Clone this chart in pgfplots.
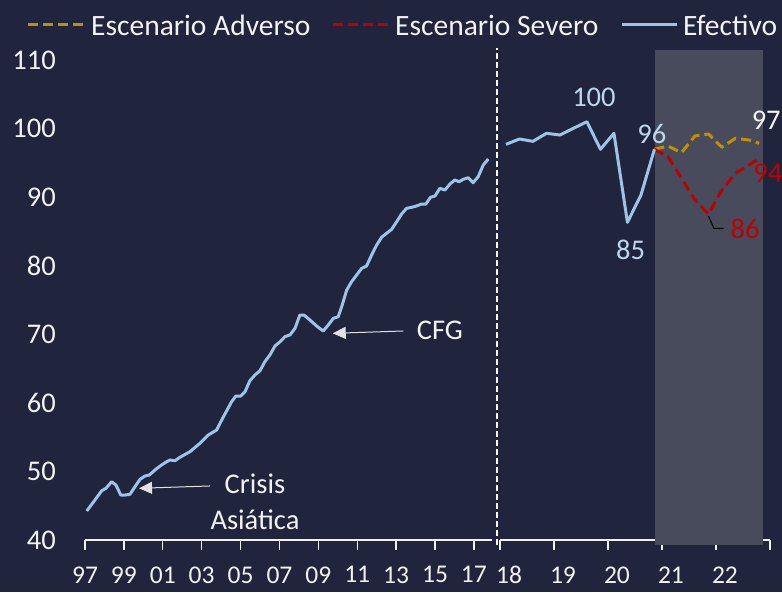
\documentclass[border=0pt]{standalone}
\usepackage{fontspec}
\setmainfont{Carlito}
\usepackage{pgfplots}
\pgfplotsset{compat=1.18}
\usetikzlibrary{arrows.meta}
\definecolor{fondo}{RGB}{32,37,61}
\definecolor{sombra}{RGB}{71,75,92}
\definecolor{efectivo}{RGB}{157,195,230}
\definecolor{adverso}{RGB}{191,144,0}
\definecolor{severo}{RGB}{192,0,0}
\definecolor{etiqueta}{RGB}{189,215,238}
\definecolor{texto}{RGB}{242,242,242}
\newcommand\grande{\fontsize{28.5}{31}\selectfont}
\newcommand\medio{\fontsize{25.5}{28}\selectfont}
\tikzset{lbl/.style={font=\grande, inner sep=0pt},
  leg/.style={font=\fontsize{29.5}{32}\selectfont, text=texto, inner sep=0pt, anchor=west},
  linea efectivo/.style={efectivo, line width=3pt, line join=round},
  linea adverso/.style={adverso, line width=3pt, dash pattern=on 10pt off 5pt, line join=round},
  linea severo/.style={severo, line width=3pt, dash pattern=on 10pt off 5pt, line join=round}}
\pgfplotsset{
  panel/.style={
    scale only axis, height=480pt, ymin=40, ymax=110, clip=false,
    axis x line*=bottom, axis y line*=left,
    x axis line style={texto, line width=1.6pt, -},
    y axis line style={draw=none},
    ytick style={draw=none},
    xtick style={texto, line width=1.4pt},
    tick align=outside, major tick length=10pt,
    /pgf/number format/assume math mode=true,
    xticklabel style={font=\medio, text=texto, yshift=-13pt},
    yticklabel style={font=\grande, text=texto, anchor=east, inner sep=0pt, xshift=-19pt},
  }
}
\begin{document}
\begin{tikzpicture}
\fill[fondo] (0,0) rectangle (782pt,592pt);

% 1997-2017
\begin{axis}[panel, at={(85pt,52pt)}, anchor=south west, width=407pt,
  xmin=1997, xmax=2017.93, xtick={1997,1999,...,2017},
  xticklabels={97,99,01,03,05,07,09,11,13,15,17}, ytick={40,50,...,110}]
  \addplot[linea efectivo, mark=none] coordinates {
    (1997.09,44.23) (1997.51,45.83) (1997.86,47.19) (1998.08,47.54) (1998.37,48.50)
    (1998.59,48.02) (1998.84,46.56) (1999.06,46.56) (1999.31,46.66) (1999.57,47.77)
    (1999.83,48.85) (2000.08,49.33) (2000.31,49.48) (2000.60,50.21) (2000.86,50.79)
    (2001.20,51.42) (2001.37,51.67) (2001.63,51.56) (2001.88,52.06) (2002.40,52.88)
    (2002.91,54.10) (2003.34,55.31) (2003.77,56.04) (2004.03,57.50) (2004.29,58.86)
    (2004.54,60.17) (2004.76,61.00) (2005.01,61.00) (2005.23,61.63) (2005.48,63.23)
    (2005.74,64.06) (2006.00,64.69) (2006.25,66.00) (2006.51,66.98) (2006.77,68.29)
    (2007.03,68.92) (2007.28,69.65) (2007.54,69.90) (2007.80,70.87) (2008.05,72.81)
    (2008.26,72.81) (2008.57,72.08) (2008.91,71.21) (2009.25,70.48) (2009.51,71.35)
    (2009.77,72.33) (2010.02,72.56) (2010.20,74.02) (2010.46,76.46) (2010.71,77.67)
    (2010.97,78.65) (2011.23,79.62) (2011.48,79.96) (2011.74,81.56) (2012.00,83.02)
    (2012.25,84.14) (2012.51,84.73) (2012.77,85.31) (2013.03,86.42) (2013.28,87.54)
    (2013.54,88.37) (2013.80,88.52) (2014.05,88.71) (2014.31,89.00) (2014.53,89.00)
    (2014.77,89.98) (2015.00,90.17) (2015.25,91.29) (2015.51,91.04) (2015.77,91.92)
    (2016.02,92.50) (2016.24,92.25) (2016.45,92.60) (2016.71,92.83) (2016.96,92.11)
    (2017.22,92.98) (2017.48,94.69) (2017.74,95.56)};
  \draw[texto!85!gray, line width=1pt, -{Triangle[length=13pt,width=12pt]}]
    (axis cs:2003.43,47.88) -- (axis cs:1999.78,47.54);
  \node[lbl, texto] at (axis cs:2005.74,48.17) {Crisis};
  \node[lbl, texto] at (axis cs:2005.74,42.92) {Asiática};
  \draw[texto!85!gray, line width=1pt, -{Triangle[length=13pt,width=12pt]}]
    (axis cs:2013.37,70.48) -- (axis cs:2009.74,70.14);
  \node[lbl, texto] at (axis cs:2015.25,70.63) {CFG};
\end{axis}

% 2018-2022
\begin{axis}[panel, at={(500pt,52pt)}, anchor=south west, width=270pt,
  xmin=2018, xmax=2023, xtick={2018,...,2023},
  xticklabels={18,19,20,21,22,{}}, ytick=\empty,
  xticklabel style={xshift=9pt}]
  \fill[sombra] (axis cs:2020.87,39.2) rectangle (axis cs:2022.87,111.46);
  \draw[white, line width=1.6pt, dash pattern=on 6pt off 3pt]
    (axis cs:2017.944,39.3) -- (axis cs:2017.944,111.7);
  \addplot[linea adverso, mark=none] coordinates {
    (2020.86,96.98) (2021.11,97.46) (2021.36,96.48) (2021.61,98.92) (2021.86,99.21)
    (2022.11,97.27) (2022.36,98.58) (2022.61,98.33) (2022.80,97.85)};
  \addplot[linea severo, mark=none] coordinates {
    (2020.86,96.98) (2021.11,95.90) (2021.36,92.79) (2021.61,89.58) (2021.86,87.54)
    (2022.11,91.04) (2022.36,93.48) (2022.61,94.69) (2022.76,95.42)};
  \addplot[linea efectivo, mark=none] coordinates {
    (2018.11,97.70) (2018.36,98.48) (2018.61,98.14) (2018.86,99.31) (2019.11,99.06)
    (2019.36,100.04) (2019.61,101.00) (2019.86,96.98) (2020.11,99.31) (2020.36,86.33)
    (2020.61,90.31) (2020.86,96.98)};
  \draw[black, line width=1pt] (axis cs:2021.86,87.25) -- (axis cs:2021.96,85.45) -- (axis cs:2022.14,85.45);
  \node[lbl, etiqueta] at (axis cs:2019.74,104.60) {100};
  \node[lbl, etiqueta] at (axis cs:2020.42,82.29) {85};
  \node[lbl, etiqueta] at (axis cs:2020.81,99.21) {96};
  \node[lbl, texto] at (axis cs:2022.93,101.25) {97};
  \node[lbl, severo] at (axis cs:2022.96,93.52) {94};
  \node[lbl, severo] at (axis cs:2022.54,85.35) {86};
\end{axis}

% leyenda
\draw[linea adverso] (28pt,567pt) -- (83pt,567pt);
\node[leg] at (91pt,567pt) {Escenario Adverso};
\draw[linea severo] (333pt,567pt) -- (388pt,567pt);
\node[leg] at (395pt,567pt) {Escenario Severo};
\draw[linea efectivo] (622pt,567pt) -- (677pt,567pt);
\node[leg] at (683pt,567pt) {Efectivo};

\pgfresetboundingbox
\useasboundingbox (0,0) rectangle (782pt,592pt);
\end{tikzpicture}
\end{document}
